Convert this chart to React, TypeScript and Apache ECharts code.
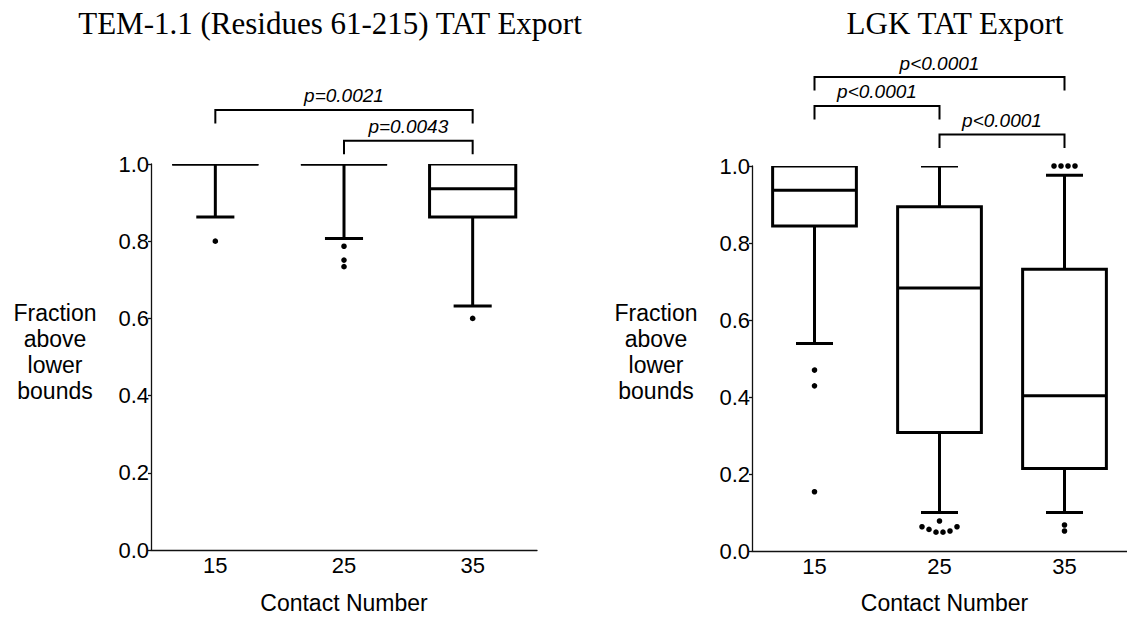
import React, { useEffect, useRef } from 'react';
import * as echarts from 'echarts';

// ---------- data ----------
const categories = ['15', '25', '35'];
const chartTitles = ['TEM-1.1 (Residues 61-215) TAT Export', 'LGK TAT Export'];
const xAxisTitle = 'Contact Number';
const yAxisTitle = 'Fraction\nabove\nlower\nbounds';

// each box: [lower whisker, Q1, median, Q3, upper whisker]
const temBoxes = [
  [0.863, 1.0, 1.0, 1.0, 1.0],
  [0.807, 1.0, 1.0, 1.0, 1.0],
  [0.632, 0.863, 0.936, 1.0, 1.0],
];
const temOutliers = [[0.8], [0.787, 0.751, 0.734], [0.6]];
// [from category, to category, bracket level]
const temBrackets = [
  [0, 2, 1.14],
  [1, 2, 1.06],
];
const temPValues = ['p=0.0021', 'p=0.0043'];

const lgkBoxes = [
  [0.539, 0.844, 0.937, 1.0, 1.0],
  [0.1, 0.308, 0.683, 0.894, 1.0],
  [0.1, 0.214, 0.403, 0.732, 0.976],
];
const lgkOutliers = [
  [0.47, 0.429, 0.154],
  [0.078, 0.063, 0.063, 0.056, 0.052, 0.049, 0.049],
  [1.0, 1.0, 1.0, 1.0, 0.0675, 0.052],
];
const lgkBrackets = [
  [0, 2, 1.231],
  [0, 1, 1.156],
  [1, 2, 1.082],
];
const lgkPValues = ['p<0.0001', 'p<0.0001', 'p<0.0001'];

// ---------- styling ----------
const SANS = '"Liberation Sans", Arial, Helvetica, sans-serif';
const SERIF = '"Liberation Serif", "Times New Roman", serif';
const GRIDS = [
  { left: 151, top: 164, width: 386, height: 386 },
  { left: 752, top: 166, width: 385, height: 385 },
];

function rowOffsets(ys: number[], spacing = 7, thresh = 5): number[] {
  const idx = ys.map((_, k) => k).sort((a, b) => ys[a] - ys[b]);
  const rows: number[][] = [];
  let cur: number[] = [];
  idx.forEach((k) => {
    if (cur.length && ys[k] - ys[cur[cur.length - 1]] >= thresh) {
      rows.push(cur);
      cur = [];
    }
    cur.push(k);
  });
  if (cur.length) rows.push(cur);
  const off = new Array(ys.length).fill(0);
  rows.forEach((row) => {
    const n = row.length;
    const slots = Array.from({ length: n }, (_, j) => (j - (n - 1) / 2) * spacing).sort(
      (a, b) => Math.abs(b) - Math.abs(a) || a - b
    );
    row.forEach((k, j) => {
      off[k] = slots[j];
    });
  });
  return off;
}

function renderBox(params: any, api: any) {
  const i = api.value(0);
  const lo = api.value(1);
  const q1 = api.value(2);
  const med = api.value(3);
  const q3 = api.value(4);
  const hi = api.value(5);
  const band = api.size([1, 0])[0];
  const hb = band * 0.335;
  const hc = band * 0.148;
  const x = api.coord([i, med])[0];
  const y = (v: number) => api.coord([i, v])[1];
  const st = { stroke: '#000', lineWidth: 3, fill: 'none' };
  const ch: any[] = [];
  if (lo < q1) {
    ch.push({ type: 'line', shape: { x1: x, y1: y(q1), x2: x, y2: y(lo) }, style: st });
    ch.push({ type: 'line', shape: { x1: x - hc, y1: y(lo), x2: x + hc, y2: y(lo) }, style: st });
  }
  if (hi > q3) {
    ch.push({ type: 'line', shape: { x1: x, y1: y(q3), x2: x, y2: y(hi) }, style: st });
    ch.push({ type: 'line', shape: { x1: x - hc, y1: y(hi), x2: x + hc, y2: y(hi) }, style: st });
  }
  ch.push({
    type: 'polygon',
    shape: {
      points: [
        [x - hb, y(q3)],
        [x + hb, y(q3)],
        [x + hb, y(q1)],
        [x - hb, y(q1)],
      ],
    },
    style: st,
  });
  ch.push({ type: 'line', shape: { x1: x - hb, y1: y(med), x2: x + hb, y2: y(med) }, style: st });
  return { type: 'group', children: ch };
}

function makeOutlierRender(flat: number[][]) {
  return (params: any, api: any) => {
    const k = params.dataIndex;
    const cat = flat[k][0];
    const sib: number[] = [];
    flat.forEach((p, j) => {
      if (p[0] === cat) sib.push(j);
    });
    const ys = sib.map((j) => api.coord([cat, flat[j][1]])[1]);
    const offs = rowOffsets(ys);
    const me = sib.indexOf(k);
    const pt = api.coord([api.value(0), api.value(1)]);
    return {
      type: 'circle',
      shape: { cx: pt[0] + offs[me], cy: pt[1], r: 2.8 },
      style: { fill: '#000' },
    };
  };
}

function makeBracketRender(labels: string[]) {
  return (params: any, api: any) => {
    const a = api.coord([api.value(0), api.value(2)]);
    const b = api.coord([api.value(1), api.value(2)]);
    const yDrop = api.coord([api.value(0), api.value(2) - 0.035])[1];
    return {
      type: 'group',
      children: [
        {
          type: 'polyline',
          shape: {
            points: [
              [a[0], yDrop],
              [a[0], a[1]],
              [b[0], b[1]],
              [b[0], yDrop],
            ],
          },
          style: { stroke: '#000', lineWidth: 2, fill: 'none' },
        },
        {
          type: 'text',
          x: (a[0] + b[0]) / 2,
          y: a[1] - 14,
          style: {
            text: labels[params.dataIndex],
            fontSize: 19,
            fontStyle: 'italic',
            fontFamily: SANS,
            fill: '#000',
            align: 'center',
            verticalAlign: 'middle',
          },
        },
      ],
    };
  };
}

function buildOption() {
  const panels = [
    { boxes: temBoxes, outliers: temOutliers, brackets: temBrackets, pvals: temPValues, tickInside: true },
    { boxes: lgkBoxes, outliers: lgkOutliers, brackets: lgkBrackets, pvals: lgkPValues, tickInside: false },
  ];
  const axisColor = '#111';
  const xAxis: any[] = [];
  const yAxis: any[] = [];
  const series: any[] = [];
  const graphic: any[] = [];
  panels.forEach((p, c) => {
    xAxis.push({
      gridIndex: c,
      type: 'category',
      data: categories,
      boundaryGap: true,
      axisLine: { lineStyle: { color: axisColor, width: 1.3 } },
      axisTick: { inside: p.tickInside, length: 4, alignWithLabel: true, lineStyle: { color: axisColor, width: 1.3 } },
      axisLabel: { fontSize: 22, color: '#000', fontFamily: SANS, margin: 4 },
      splitLine: { show: false },
    });
    yAxis.push({
      gridIndex: c,
      type: 'value',
      min: 0,
      max: 1,
      interval: 0.2,
      axisLine: { show: true, lineStyle: { color: axisColor, width: 1.3 } },
      axisTick: { show: true, length: 3, lineStyle: { color: axisColor, width: 1.3 } },
      axisLabel: {
        fontSize: 22,
        color: '#000',
        fontFamily: SANS,
        margin: 2,
        formatter: (v: number) => v.toFixed(1),
      },
      splitLine: { show: false },
    });
    series.push({
      type: 'custom',
      xAxisIndex: c,
      yAxisIndex: c,
      clip: true,
      silent: true,
      renderItem: renderBox,
      encode: { x: 0, y: [1, 2, 3, 4, 5] },
      data: p.boxes.map((b, i) => [i, ...b]),
    });
    const flat = p.outliers.flatMap((arr, i) => arr.map((v) => [i, v]));
    series.push({
      type: 'custom',
      xAxisIndex: c,
      yAxisIndex: c,
      clip: false,
      silent: true,
      renderItem: makeOutlierRender(flat),
      encode: { x: 0, y: 1 },
      data: flat,
    });
    series.push({
      type: 'custom',
      xAxisIndex: c,
      yAxisIndex: c,
      clip: false,
      silent: true,
      renderItem: makeBracketRender(p.pvals),
      encode: { x: [0, 1], y: 2 },
      data: p.brackets,
    });
    const g = GRIDS[c];
    graphic.push({
      type: 'text',
      x: c === 0 ? 330 : 955,
      y: 23,
      style: {
        text: chartTitles[c],
        fontSize: 31,
        fontFamily: SERIF,
        fill: '#000',
        align: 'center',
        verticalAlign: 'middle',
      },
    });
    graphic.push({
      type: 'text',
      x: g.left + g.width / 2,
      y: 603,
      style: {
        text: xAxisTitle,
        fontSize: 23,
        fontFamily: SANS,
        fill: '#000',
        align: 'center',
        verticalAlign: 'middle',
      },
    });
    graphic.push({
      type: 'text',
      x: g.left - 96,
      y: 352,
      style: {
        text: yAxisTitle,
        fontSize: 23,
        lineHeight: 26,
        fontFamily: SANS,
        fill: '#000',
        align: 'center',
        verticalAlign: 'middle',
      },
    });
  });
  return {
    animation: false,
    backgroundColor: '#fff',
    grid: GRIDS.map((g) => ({ ...g, containLabel: false })),
    xAxis,
    yAxis,
    series,
    graphic,
  };
}

export default function App() {
  const ref = useRef<HTMLDivElement>(null);
  useEffect(() => {
    if (!ref.current) return;
    const chart = echarts.init(ref.current, undefined, { renderer: 'svg' });
    chart.setOption(buildOption() as any);
    return () => chart.dispose();
  }, []);
  return (
    <div
      ref={ref}
      style={{ position: 'fixed', left: 0, top: 0, width: 1127, height: 618, background: '#fff' }}
    />
  );
}
